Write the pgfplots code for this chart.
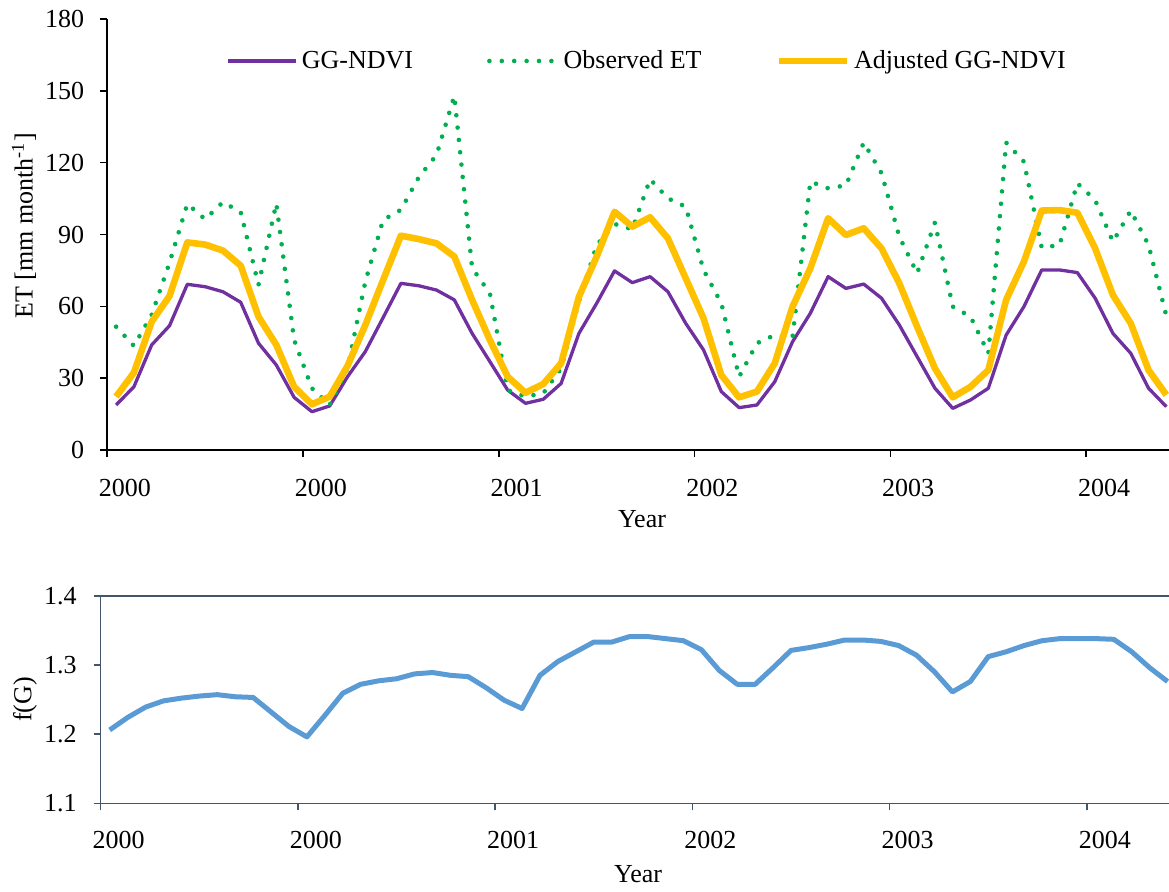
\documentclass[border=0pt]{standalone}
\usepackage{fontspec}
\setmainfont{Liberation Serif}
\usepackage{pgfplots}
\usepackage{pgfplotstable}
\pgfplotsset{compat=1.18}
\definecolor{ggc}{HTML}{7030A0}
\definecolor{obsc}{HTML}{00B050}
\definecolor{adjc}{HTML}{FFC000}
\definecolor{fgc}{HTML}{5B9BD5}
\definecolor{axc}{HTML}{44546A}

\pgfplotstableread{
i gg obs adj
0 18.8 51.5 22.3
1 26.4 43.5 32.3
2 43.9 56.5 53.6
3 51.9 78.2 64.3
4 69.2 102.8 86.7
5 68.2 96.4 85.8
6 66.1 103.5 83.3
7 61.7 99.4 77.0
8 44.6 69.0 55.7
9 35.5 103.0 43.9
10 22.0 46.0 26.4
11 16.0 25.8 19.1
12 18.4 18.8 22.3
13 30.6 34.1 35.1
14 41.1 70.3 52.2
15 55.3 96.1 71.0
16 69.6 100.3 89.5
17 68.6 113.9 88.1
18 66.8 123.2 86.3
19 62.7 147.9 80.8
20 48.7 76.0 62.7
21 36.9 65.4 45.9
22 25.0 25.0 30.6
23 19.5 22.3 23.9
24 21.2 23.7 27.6
25 27.8 34.1 36.2
26 48.7 62.0 64.0
27 61.3 85.6 80.8
28 74.8 94.4 99.5
29 69.9 92.2 93.3
30 72.4 113.1 97.2
31 66.1 105.1 88.4
32 52.9 101.6 71.7
33 41.8 75.2 55.0
34 24.4 61.3 31.3
35 17.7 30.6 22.0
36 18.8 44.6 24.4
37 28.5 48.0 36.2
38 45.2 47.0 59.9
39 57.1 112.1 75.9
40 72.4 109.3 96.8
41 67.5 110.5 89.8
42 69.3 128.4 92.6
43 63.4 115.6 84.2
44 52.2 89.1 69.6
45 39.0 73.8 51.5
46 25.8 95.0 34.1
47 17.4 59.9 22.0
48 20.9 55.7 26.4
49 25.8 40.4 33.4
50 48.0 128.4 62.7
51 59.9 120.4 78.7
52 75.2 84.5 100.0
53 75.2 85.6 100.2
54 74.1 111.4 99.1
55 63.4 104.4 84.2
56 48.7 87.0 64.7
57 40.4 100.0 52.9
58 25.8 85.6 33.4
59 18.1 56.0 23.0
}\etdata

\pgfplotstableread{
i fg
0 1.206
1 1.224
2 1.239
3 1.248
4 1.252
5 1.255
6 1.257
7 1.254
8 1.253
9 1.232
10 1.211
11 1.196
12 1.227
13 1.259
14 1.272
15 1.277
16 1.280
17 1.287
18 1.289
19 1.285
20 1.283
21 1.267
22 1.249
23 1.237
24 1.285
25 1.305
26 1.319
27 1.333
28 1.333
29 1.341
30 1.341
31 1.338
32 1.335
33 1.322
34 1.292
35 1.272
36 1.272
37 1.296
38 1.321
39 1.325
40 1.330
41 1.336
42 1.336
43 1.334
44 1.328
45 1.314
46 1.290
47 1.261
48 1.276
49 1.312
50 1.319
51 1.328
52 1.335
53 1.338
54 1.338
55 1.338
56 1.337
57 1.319
58 1.296
59 1.276
}\fgdata

\begin{document}
\begin{tikzpicture}
\useasboundingbox (0,0) rectangle (584.5pt,-445.5pt);
\begin{axis}[
  at={(53.6pt,-225pt)}, anchor=south west,
  width=530.9pt, height=215.5pt, scale only axis,
  xmin=-0.5, xmax=59.15, ymin=0, ymax=180,
  axis x line=bottom, axis y line=left,
  axis line style={-, line width=0.8pt, black},
  ytick={0,30,...,180},
  xtick={-0.5,10.5,21.5,32.5,43.5,54.5},
  xticklabels={2000,2000,2001,2002,2003,2004},
  xticklabel style={xshift=8.9pt, yshift=-7.5pt},
  yticklabel style={xshift=-4.5pt},
  tick align=outside, major tick length=3.5pt,
  tick style={line width=0.8pt, black},
  font=\fontsize{13}{15.6}\selectfont,
  /pgf/number format/assume math mode=true,
  xlabel={Year}, ylabel={ET [mm month\textsuperscript{-1}]},
  every axis y label/.style={at={(axis description cs:-0.0784,0.52)}, rotate=90, anchor=center},
  every axis x label/.style={at={(axis description cs:0.5037,-0.160)}, anchor=center},
  legend columns=3,
  legend style={draw=none, fill=none, at={(0.5095,0.9026)}, anchor=center,
    font=\fontsize{13}{15.6}\selectfont,
    /tikz/every even column/.append style={column sep=35pt}},
  legend image code/.code={\draw[#1] (0pt,0pt) -- (34pt,0pt);},
  line join=round,
]
\addplot[ggc, line width=1.65pt] table[x=i, y=gg] {\etdata};
\addlegendentry{GG-NDVI}
\addplot[obsc, line width=2.3pt, line cap=round, dash pattern=on 0pt off 6.2pt] table[x=i, y=obs] {\etdata};
\addlegendentry{Observed ET}
\addplot[adjc, line width=3.3pt] table[x=i, y=adj] {\etdata};
\addlegendentry{Adjusted GG-NDVI}
\end{axis}

\begin{axis}[
  at={(50.35pt,-401.65pt)}, anchor=south west,
  width=534.15pt, height=103.8pt, scale only axis,
  xmin=-0.5, xmax=59.08, ymin=1.1, ymax=1.4,
  axis x line=bottom, axis y line=left,
  axis line style={-, line width=0.8pt, axc},
  ytick={1.1,1.2,1.3,1.4},
  yticklabel style={/pgf/number format/.cd, fixed, fixed zerofill, precision=1, /tikz/.cd, xshift=-5pt},
  xtick={-0.5,10.5,21.5,32.5,43.5,54.5},
  xticklabels={2000,2000,2001,2002,2003,2004},
  xticklabel style={xshift=8.97pt, yshift=-7pt},
  tick align=outside, major tick length=3.5pt,
  tick style={line width=0.8pt, axc},
  font=\fontsize{13}{15.6}\selectfont,
  /pgf/number format/assume math mode=true,
  xlabel={Year}, ylabel={f(G)},
  every axis y label/.style={at={(axis description cs:-0.0709,0.5)}, rotate=90, anchor=center},
  every axis x label/.style={at={(axis description cs:0.503,-0.34)}, anchor=center},
  line join=round,
]
\draw[axc, line width=0.8pt] (rel axis cs:0,1) -- (rel axis cs:1,1);
\addplot[fgc, line width=2.5pt] table[x=i, y=fg] {\fgdata};
\end{axis}
\end{tikzpicture}
\end{document}
